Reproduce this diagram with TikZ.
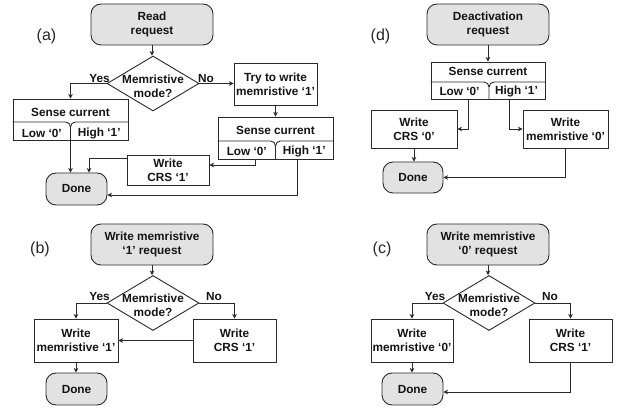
\documentclass[tikz,border=0pt]{standalone}
\usepackage{fontspec}
\setmainfont{Liberation Sans}
\usetikzlibrary{arrows.meta,shapes.geometric}
\definecolor{linec}{HTML}{2A2A2A}
\definecolor{termfill}{HTML}{E2E2E2}
\begin{document}
\begin{tikzpicture}[x=1pt,y=-1pt,
  every node/.style={font=\fontsize{11.8}{13.8}\selectfont\bfseries, text=black!92, align=center, inner sep=0pt},
  term/.style={draw=linec, line width=0.9pt, fill=termfill, rounded corners=10pt},
  proc/.style={draw=linec, line width=0.9pt, rectangle},
  dec/.style={draw=linec, line width=0.9pt, diamond, minimum width=92pt, minimum height=55pt},
  divl/.style={draw=linec, line width=0.9pt},
  arr/.style={draw=linec, line width=0.8pt, -{Stealth[length=4.5pt,width=4.5pt,inset=1.2pt]}},
  conn/.style={draw=linec, line width=0.8pt},
  lbl/.style={font=\fontsize{16}{18}\selectfont, text=black!85},
  tag/.style={font=\fontsize{11.8}{13.8}\selectfont\bfseries}
]
\useasboundingbox (0,0) rectangle (618,411);

% ===================== (a) =====================
\node[lbl] (labA) at (46.5,36) {(a)};
\node[term, minimum width=122pt, minimum height=41pt] (reqA) at (152,24.5) {Read\\request};
\node[dec] (decA) at (153,83.5) {};
\node (decAt) at (153,86) {Memristive\\mode?};
\node[tag] (yesA) at (99.5,79) {Yes};
\node[tag] (noA) at (206,79) {No};
\node[proc, minimum width=83pt, minimum height=42pt] (tryA) at (275.5,84) {Try to write\\memristive ‘1’};
% sense current 1
\node[proc, minimum width=115pt, minimum height=41pt] (scA1) at (70.5,119.5) {};
\node (scA1t) at (70.5,112) {Sense current};
\node (scA1l) at (41.75,133) {Low ‘0’};
\node (scA1h) at (99.25,133) {High ‘1’};
\draw[divl] (scA1.west |- 0,122) -- (65.5,122) .. controls (68.3,122) and (70.5,124.2) .. (70.5,127) -- (scA1.south);
\draw[divl] (scA1.east |- 0,122) -- (75.5,122) .. controls (72.7,122) and (70.5,124.2) .. (70.5,127);
% sense current 2
\node[proc, minimum width=115pt, minimum height=42pt] (scA2) at (275.5,138) {};
\node (scA2t) at (275.5,130.5) {Sense current};
\node (scA2l) at (246.75,151) {Low ‘0’};
\node (scA2h) at (304.25,151) {High ‘1’};
\draw[divl] (scA2.west |- 0,141) -- (270.5,141) .. controls (273.3,141) and (275.5,143.2) .. (275.5,146) -- (scA2.south);
\draw[divl] (scA2.east |- 0,141) -- (280.5,141) .. controls (277.7,141) and (275.5,143.2) .. (275.5,146);
\coordinate (a2low) at (255,159);
\coordinate (a2high) at (297,159);
\node[proc, minimum width=82pt, minimum height=30pt] (crsA) at (168,170) {Write\\CRS ‘1’};
\node[term, minimum width=61pt, minimum height=32pt] (doneA) at (76.5,189) {Done};
% connectors (a)
\draw[arr] (reqA.south) -- (reqA.south |- decA.north);
\draw[arr] (decA.west) -| (scA1.north);
\draw[arr] (decA.east) -- (decA.east -| tryA.west);
\draw[arr] (tryA.south) -- (scA2.north);
\draw[arr] (scA1.south) -- (scA1.south |- doneA.north);
\draw[arr] (a2low) |- ([yshift=5pt]crsA.east);
\draw[arr] ([yshift=12pt]crsA.west) -| ([xshift=12.5pt]doneA.north);
\draw[arr] (a2high) |- ([yshift=-6pt]doneA.east);

% ===================== (d) =====================
\node[lbl] (labD) at (380.5,36) {(d)};
\node[term, minimum width=122pt, minimum height=41pt] (reqD) at (488,24.5) {Deactivation\\request};
\node[proc, minimum width=114pt, minimum height=37pt] (scD) at (488,80.5) {};
\node (scDt) at (488,71) {Sense current};
\node (scDl) at (459.5,91.5) {Low ‘0’};
\node (scDh) at (516.5,91.5) {High ‘1’};
\draw[divl] (scD.west |- 0,82) -- (484,82) .. controls (486.8,82) and (489,84.2) .. (489,87) -- (scD.south -| 489,0);
\draw[divl] (scD.east |- 0,82) -- (494,82) .. controls (491.2,82) and (489,84.2) .. (489,87);
\coordinate (dlow) at (468,99);
\coordinate (dhigh) at (509,99);
\node[proc, minimum width=86pt, minimum height=38pt] (crsD) at (414,129) {Write\\CRS ‘0’};
\node[proc, minimum width=85pt, minimum height=38pt] (memD) at (565.5,129) {Write\\memristive ‘0’};
\node[term, minimum width=60pt, minimum height=31pt] (doneD) at (413,177.5) {Done};
\draw[arr] (reqD.south) -- (scD.north);
\draw[arr] (dlow) |- (crsD.east);
\draw[arr] (dhigh) |- (memD.west);
\draw[arr] (crsD.south) -- (crsD.south |- doneD.north);
\draw[arr] (memD.south) |- (doneD.east);

% ===================== (b) =====================
\node[lbl] (labB) at (40,249) {(b)};
\node[term, minimum width=122pt, minimum height=41pt] (reqB) at (152,244.5) {Write memristive\\‘1’ request};
\node[dec] (decB) at (153,303) {};
\node (decBt) at (153,305.5) {Memristive\\mode?};
\node[tag] (yesB) at (99.5,296) {Yes};
\node[tag] (noB) at (214,296) {No};
\node[proc, minimum width=84pt, minimum height=43pt] (memB) at (76,340.5) {Write\\memristive ‘1’};
\node[proc, minimum width=83pt, minimum height=43pt] (crsB) at (234.5,340.5) {Write\\CRS ‘1’};
\node[term, minimum width=61pt, minimum height=32pt] (doneB) at (76.5,389) {Done};
\draw[arr] (reqB.south) -- (reqB.south |- decB.north);
\draw[arr] (decB.west) -| (memB.north);
\draw[arr] (decB.east) -| (crsB.north);
\draw[arr] (crsB.west) -- (memB.east);
\draw[arr] (memB.south) -- (memB.south |- doneB.north);

% ===================== (c) =====================
\node[lbl] (labC) at (382,249) {(c)};
\node[term, minimum width=122pt, minimum height=41pt] (reqC) at (488,244.5) {Write memristive\\‘0’ request};
\node[dec] (decC) at (489,303) {};
\node (decCt) at (489,305.5) {Memristive\\mode?};
\node[tag] (yesC) at (435,296) {Yes};
\node[tag] (noC) at (550,296) {No};
\node[proc, minimum width=82pt, minimum height=43pt] (memC) at (412,340.5) {Write\\memristive ‘0’};
\node[proc, minimum width=83pt, minimum height=43pt] (crsC) at (570.5,340.5) {Write\\CRS ‘1’};
\node[term, minimum width=61pt, minimum height=32pt] (doneC) at (412.5,389) {Done};
\draw[arr] (reqC.south) -- (reqC.south |- decC.north);
\draw[arr] (decC.west) -| (memC.north);
\draw[arr] (decC.east) -| (crsC.north);
\draw[arr] (memC.south) -- (memC.south |- doneC.north);
\draw[arr] (crsC.south) |- ([yshift=-3pt]doneC.east);
\end{tikzpicture}
\end{document}
